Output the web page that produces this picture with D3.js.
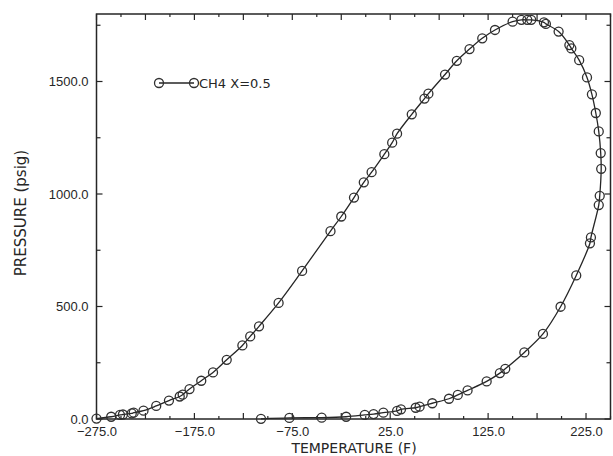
<!DOCTYPE html>
<html>
<head>
<meta charset="utf-8">
<script src="https://d3js.org/d3.v7.min.js"></script>
<style>
  body { margin: 0; background: #fff; }
  svg { display: block; font-family: "DejaVu Sans", sans-serif; }
  .tick text { font-size: 13px; fill: #262626; }
  .frame { fill: none; stroke: #262626; stroke-width: 1.5; }
  .ticks line { stroke: #262626; stroke-width: 1.2; }
  .curve { fill: none; stroke: #262626; stroke-width: 1.3; }
  .marker { fill: none; stroke: #303030; stroke-width: 1.3; }
</style>
</head>
<body>
<svg width="613" height="456"></svg>
<script>
// phase envelope, bubble side then dew side, in drawing order
var temps = [-275, -260, -251, -248, -239, -237, -227, -214, -201, -190, -187, -180, -168, -156, -142, -126, -118, -109, -89, -65,
  -36, -25, -12, -2, 6, 19, 27, 32, 47, 60, 64, 81, 93, 106, 119, 132, 150, 159, 165, 169,
  182, 184, 197, 208, 210, 218, 226, 231, 235, 238, 240, 240.5, 239, 238, 230, 229, 215, 199, 181, 162,
  142.5, 137, 123.5, 104, 94, 85, 68, 55, 51, 36, 32, 18, 8, -1, -20, -45, -78, -107];
var pressures = [2, 10, 18, 20, 25, 28, 37, 58, 82, 100, 108, 133, 170, 207, 263, 327, 367, 412, 516, 658,
  835, 900, 984, 1052, 1097, 1177, 1228, 1268, 1354, 1424, 1446, 1531, 1592, 1644, 1692, 1729, 1766, 1774, 1774, 1774,
  1763, 1756, 1722, 1662, 1647, 1595, 1518, 1443, 1360, 1278, 1182, 1112, 992, 951, 807, 781, 638, 499, 378, 296,
  223, 204, 167, 127, 107, 90, 70, 55, 50, 43, 36, 28, 22, 18, 10, 6, 5, 1];

var xLabelTicks = [-275, -175, -75, 25, 125, 225];
var yLabelTicks = [0, 500, 1000, 1500];
var seriesName = "CH4 X=0.5";

var svg = d3.select("svg");

var x = d3.scaleLinear().domain([-275, 250]).range([96.5, 610.5]);
var y = d3.scaleLinear().domain([0, 1800]).range([419, 14]);

var points = temps.map(function(t, i) { return { t: t, p: pressures[i] }; });

// tick labels
svg.append("g")
    .attr("transform", "translate(0," + y(0) + ")")
    .call(d3.axisBottom(x).tickValues(xLabelTicks).tickSize(0).tickPadding(8).tickFormat(d3.format(".1f")))
    .call(function(g) { g.select(".domain").remove(); });

svg.append("g")
    .attr("transform", "translate(" + x(-275) + ",0)")
    .call(d3.axisLeft(y).tickValues(yLabelTicks).tickSize(0).tickPadding(8).tickFormat(d3.format(".1f")))
    .call(function(g) { g.select(".domain").remove(); });

svg.selectAll(".tick text").attr("font-family", null);

// inward tick marks on all four sides, every 25 F and every 250 psig
var xTicks = d3.range(-275, 250.1, 25);
var yTicks = d3.range(0, 1800.1, 250);
var ticks = svg.append("g").attr("class", "ticks");

ticks.selectAll(".xb").data(xTicks).enter().append("line")
    .attr("x1", function(d) { return x(d); }).attr("x2", function(d) { return x(d); })
    .attr("y1", y(0)).attr("y2", function(d, i) { return y(0) - (i % 2 ? 3 : 6); });
ticks.selectAll(".xt").data(xTicks).enter().append("line")
    .attr("x1", function(d) { return x(d); }).attr("x2", function(d) { return x(d); })
    .attr("y1", y(1800)).attr("y2", function(d, i) { return y(1800) + (i % 2 ? 3 : 6); });
ticks.selectAll(".yl").data(yTicks).enter().append("line")
    .attr("y1", function(d) { return y(d); }).attr("y2", function(d) { return y(d); })
    .attr("x1", x(-275)).attr("x2", function(d, i) { return x(-275) + (i % 2 ? 4 : 6); });
ticks.selectAll(".yr").data(yTicks).enter().append("line")
    .attr("y1", function(d) { return y(d); }).attr("y2", function(d) { return y(d); })
    .attr("x1", x(250)).attr("x2", function(d, i) { return x(250) - (i % 2 ? 4 : 6); });

svg.append("rect")
    .attr("class", "frame")
    .attr("x", x(-275)).attr("y", y(1800))
    .attr("width", x(250) - x(-275)).attr("height", y(0) - y(1800));

// axis titles
svg.append("text")
    .attr("x", 354).attr("y", 453)
    .attr("text-anchor", "middle")
    .style("font-size", "14px").style("fill", "#262626")
    .text("TEMPERATURE (F)");

svg.append("text")
    .attr("transform", "translate(26,213) rotate(-90)")
    .attr("text-anchor", "middle")
    .style("font-size", "15px").style("fill", "#262626")
    .text("PRESSURE (psig)");

// the envelope
var line = d3.line()
    .x(function(d) { return x(d.t); })
    .y(function(d) { return y(d.p); })
    .curve(d3.curveCatmullRom.alpha(0.5));

svg.append("path")
    .datum(points)
    .attr("class", "curve")
    .attr("d", line);

svg.append("g").selectAll("circle")
    .data(points)
    .enter().append("circle")
    .attr("class", "marker")
    .attr("cx", function(d) { return x(d.t); })
    .attr("cy", function(d) { return y(d.p); })
    .attr("r", 4.5);

// legend
var legend = svg.append("g").attr("transform", "translate(159,83)");
legend.append("line").attr("x1", 0).attr("x2", 35).attr("stroke", "#262626").attr("stroke-width", 1.3);
legend.selectAll("circle").data([0, 35]).enter().append("circle")
    .attr("class", "marker").attr("cx", function(d) { return d; }).attr("cy", 0).attr("r", 4.5);
legend.append("text")
    .attr("x", 40).attr("dy", "0.36em")
    .style("font-size", "13px").style("fill", "#262626")
    .text(seriesName);
</script>
</body>
</html>
